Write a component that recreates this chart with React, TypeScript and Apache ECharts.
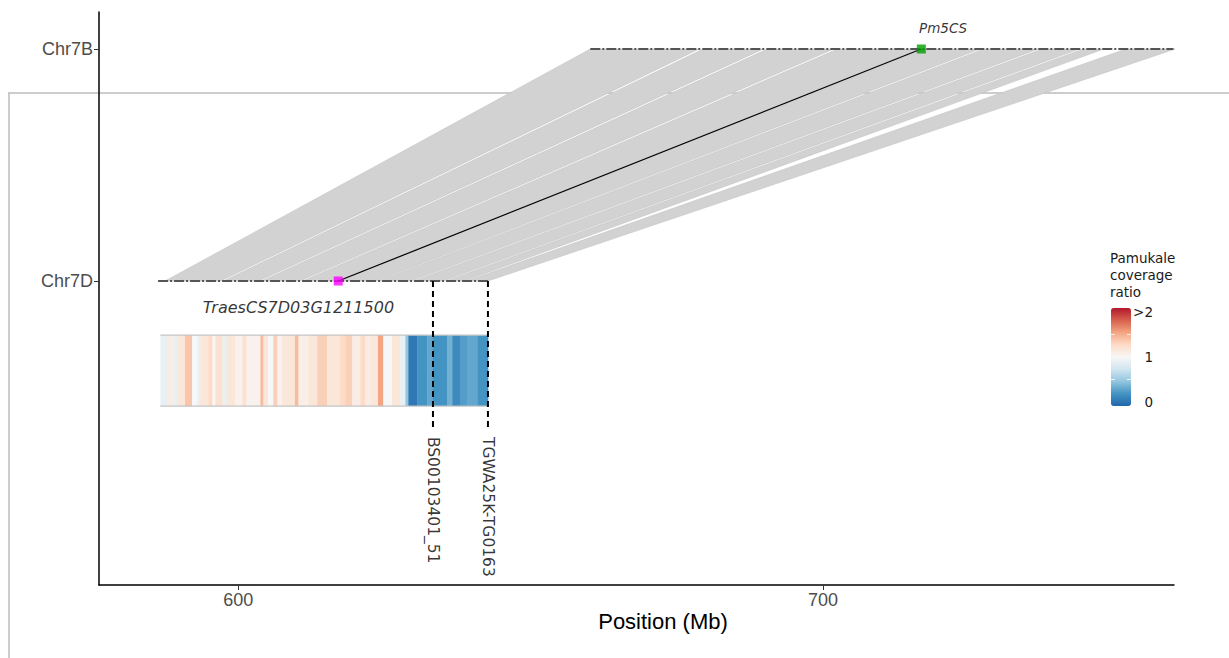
import React, { useEffect, useRef } from 'react';
import * as echarts from 'echarts';

// ---- data ----
const chromosomes = ['Chr7D', 'Chr7B'];
const chrLevels = [0, 1];
const xTicks = [600, 700];

const track7D = [586.3, 642.7];
const track7B = [660.2, 759.9];

// synteny blocks: Chr7D start/end -> Chr7B start/end (Mb)
const blockD1 = [587.5, 597.5, 604.0, 611.0, 617.3, 624.0, 630.0, 635.5, 639.0];
const blockD2 = [597.0, 603.5, 610.5, 617.0, 623.6, 629.5, 635.0, 638.6, 642.7];
const blockB1 = [660.2, 679.5, 690.5, 702.5, 717.2, 727.5, 737.5, 744.5, 751.8];
const blockB2 = [678.8, 689.8, 701.8, 716.5, 726.8, 736.8, 743.8, 748.0, 760.2];

const geneName = 'TraesCS7D03G1211500';
const geneD = 617.1;
const targetName = 'Pm5CS';
const geneB = 716.8;

const markerNames = ['BS00103401_51', 'TGWA25K-TG0163'];
const markerPos = [633.3, 642.7];

// coverage heatmap bins (edges in Mb) and Pamukale coverage ratio
const heatEdges = [586.7, 588.0, 588.9, 589.7, 590.9, 592.1, 593.0, 593.5, 594.9, 595.6, 596.1, 597.3, 598.0, 599.5, 600.7, 601.4, 603.8, 604.3, 605.1, 606.0, 606.7, 607.5, 609.7, 610.3, 612.0, 613.5, 615.2, 617.4, 618.3, 619.5, 620.9, 621.7, 622.6, 623.9, 624.8, 626.3, 627.7, 628.6, 629.1, 630.6, 632.3, 633.3, 635.7, 636.6, 638.0, 639.2, 640.9, 642.7];
const heatValues = [0.9, 1.1, 0.9, 1.15, 1.35, 1.0, 0.9, 1.15, 1.25, 1.0, 1.2, 0.9, 1.15, 1.05, 1.2, 1.05, 1.4, 1.15, 1.0, 1.3, 1.05, 1.15, 1.4, 1.08, 1.15, 1.3, 1.15, 1.25, 1.3, 1.1, 1.25, 1.1, 1.15, 1.5, 1.0, 1.15, 0.9, 0.5, 0.1, 0.25, 0.35, 0.25, 0.4, 0.2, 0.3, 0.35, 0.25];

const legendTitle = 'Pamukale\ncoverage\nratio';
const legendLabels = ['>2', '1', '0'];
const legendValues = [2, 1, 0];
const legendMinorTicks = [0.5, 1.5];

const rdbu = ['#2166ac', '#4393c3', '#92c5de', '#d1e5f0', '#f7f7f7', '#fddbc7', '#f4a582', '#d6604d', '#b2182b'];

const heatTop = -0.233;
const heatBottom = -0.539;
const markerLineEnd = -0.634;
const markerLabelY = -0.672;

export default function App() {
  const ref = useRef<HTMLDivElement>(null);
  useEffect(() => {
    const chart = echarts.init(ref.current!, null, { renderer: 'svg' });
    const dvs = 'DejaVu Sans';
    const series: any[] = [];

    // synteny ribbons
    series.push({
      type: 'custom',
      z: 1,
      data: blockD1.map((d, i) => [d, blockD2[i], blockB1[i], blockB2[i]]),
      dimensions: ['d1', 'd2', 'b1', 'b2'],
      encode: { x: [0, 1, 2, 3] },
      renderItem: (params: any, api: any) => {
        const a = api.coord([api.value(0), 0]);
        const b = api.coord([api.value(1), 0]);
        const c = api.coord([api.value(3), 1]);
        const d = api.coord([api.value(2), 1]);
        return {
          type: 'polygon',
          shape: { points: [a, b, c, d] },
          style: { fill: '#d2d2d2', stroke: '#c4c4c4', lineWidth: 0.6 },
        };
      },
      silent: true,
    });

    // chromosome tracks
    series.push({
      type: 'line', z: 3, showSymbol: false, silent: true,
      data: [[track7D[0], 0], [track7D[1], 0]],
      lineStyle: { color: '#555', width: 2, type: [10, 2, 2, 2] },
    });
    series.push({
      type: 'line', z: 3, showSymbol: false, silent: true,
      data: [[track7B[0], 1], [track7B[1], 1]],
      lineStyle: { color: '#555', width: 2, type: [10, 2, 2, 2] },
    });

    // highlighted gene link
    series.push({
      type: 'line', z: 4, showSymbol: false, silent: true,
      data: [[geneD, 0], [geneB, 1]],
      lineStyle: { color: '#000', width: 1.2 },
    });
    series.push({
      type: 'scatter', z: 5, symbol: 'rect', symbolSize: 9, silent: true,
      data: [
        { value: [geneD, 0], itemStyle: { color: '#ff00ff' } },
        { value: [geneB, 1], itemStyle: { color: '#00a000' } },
      ],
    });

    // heatmap
    const heatIndex = series.length;
    series.push({
      type: 'custom', z: 2, silent: true,
      data: heatValues.map((v, i) => [heatEdges[i], heatEdges[i + 1], v]),
      dimensions: ['start', 'end', 'ratio'],
      encode: { x: [0, 1] },
      renderItem: (params: any, api: any) => {
        const p1 = api.coord([api.value(0), heatTop]);
        const p2 = api.coord([api.value(1), heatBottom]);
        return {
          type: 'rect',
          shape: { x: p1[0], y: p1[1], width: p2[0] - p1[0] + 0.4, height: p2[1] - p1[1] },
          style: { fill: api.visual('color') },
        };
      },
    });
    // heatmap top/bottom borders
    [heatTop, heatBottom].forEach((yv) => {
      series.push({
        type: 'line', z: 3, showSymbol: false, silent: true,
        data: [[heatEdges[0], yv], [heatEdges[heatEdges.length - 1], yv]],
        lineStyle: { color: '#c4c4c4', width: 1.2 },
      });
    });

    // markers
    markerPos.forEach((p) => {
      series.push({
        type: 'line', z: 6, showSymbol: false, silent: true,
        data: [[p, 0], [p, markerLineEnd]],
        lineStyle: { color: '#000', width: 2, type: [6, 4] },
      });
    });
    series.push({
      type: 'scatter', z: 6, symbolSize: 0, silent: true,
      data: markerPos.map((p, i) => ({ value: [p, markerLabelY], name: markerNames[i] })),
      label: {
        show: true, formatter: '{b}', position: [0, 0], rotate: -90,
        align: 'left', verticalAlign: 'middle',
        fontSize: 15.5, fontFamily: dvs, color: '#000',
      },
    });

    // gene labels
    series.push({
      type: 'scatter', z: 6, symbolSize: 0, silent: true,
      data: [
        { value: [610.3, -0.116], name: geneName, label: { align: 'center', fontSize: 16 } },
        { value: [716.4, 1.0905], name: targetName, label: { align: 'left', fontSize: 13.5 } },
      ],
      label: {
        show: true, formatter: '{b}', position: [0, 0], verticalAlign: 'middle',
        fontStyle: 'italic', fontFamily: dvs, color: '#000',
      },
    });

    const option: any = {
      animation: false,
      grid: { left: 99, right: 55, top: 12, bottom: 73 },
      xAxis: {
        type: 'value', min: 576.2, max: 760,
        axisLine: { show: true, onZero: false, lineStyle: { color: '#000', width: 1.5 } },
        axisTick: { show: true, customValues: xTicks, length: 5, lineStyle: { color: '#333' } },
        axisLabel: { customValues: xTicks, color: '#4d4d4d', fontSize: 18, fontFamily: 'Liberation Sans', margin: 6 },
        splitLine: { show: false },
      },
      yAxis: {
        type: 'value', min: -1.3103, max: 1.1595,
        axisLine: { show: true, onZero: false, lineStyle: { color: '#000', width: 1.5 } },
        axisTick: { show: true, customValues: chrLevels, length: 5, lineStyle: { color: '#333' } },
        axisLabel: {
          customValues: chrLevels, color: '#4d4d4d', fontSize: 18, fontFamily: 'Liberation Sans', margin: 6,
          formatter: (v: number) => chromosomes[chrLevels.indexOf(v)] ?? '',
        },
        splitLine: { show: false },
      },
      visualMap: {
        type: 'continuous', show: true, min: 0, max: 2, dimension: 2, seriesIndex: heatIndex,
        calculable: false, left: 1111, top: 308, itemWidth: 20, itemHeight: 98, padding: 0,
        text: null, inRange: { color: rdbu },
      },
      graphic: [
        { type: 'line', z: -1, shape: { x1: 8, y1: 93, x2: 1229, y2: 93 }, style: { stroke: '#bdbdbd', lineWidth: 1.5 } },
        { type: 'line', z: -1, shape: { x1: 9, y1: 93, x2: 9, y2: 658 }, style: { stroke: '#bdbdbd', lineWidth: 1.5 } },
        {
          type: 'text', x: 1110, y: 250,
          style: { text: legendTitle, fontSize: 13.5, fontFamily: dvs, fill: '#1a1a1a', lineHeight: 16.7, verticalAlign: 'top', align: 'left' },
        },
        ...legendLabels.map((t, i) => ({
          type: 'text', x: 1153, y: 402 - legendValues[i] * 45,
          style: { text: t, fontSize: 13.5, fontFamily: dvs, fill: '#1a1a1a', align: 'right', verticalAlign: 'middle' },
        })),
        ...legendMinorTicks.flatMap((v) => [
          { type: 'line', z: 10, shape: { x1: 1111, y1: 402 - v * 45, x2: 1115, y2: 402 - v * 45 }, style: { stroke: 'rgba(255,255,255,0.8)', lineWidth: 1 } },
          { type: 'line', z: 10, shape: { x1: 1127, y1: 402 - v * 45, x2: 1131, y2: 402 - v * 45 }, style: { stroke: 'rgba(255,255,255,0.8)', lineWidth: 1 } },
        ]),
        {
          type: 'text', x: 663, y: 621,
          style: { text: 'Position (Mb)', fontSize: 22, fontFamily: 'Liberation Sans', fill: '#000', align: 'center', verticalAlign: 'middle' },
        },
      ],
      series,
    };
    chart.setOption(option);
    return () => chart.dispose();
  }, []);
  return <div ref={ref} style={{ position: 'fixed', left: 0, top: 0, width: 1229, height: 658, background: '#fff' }} />;
}
